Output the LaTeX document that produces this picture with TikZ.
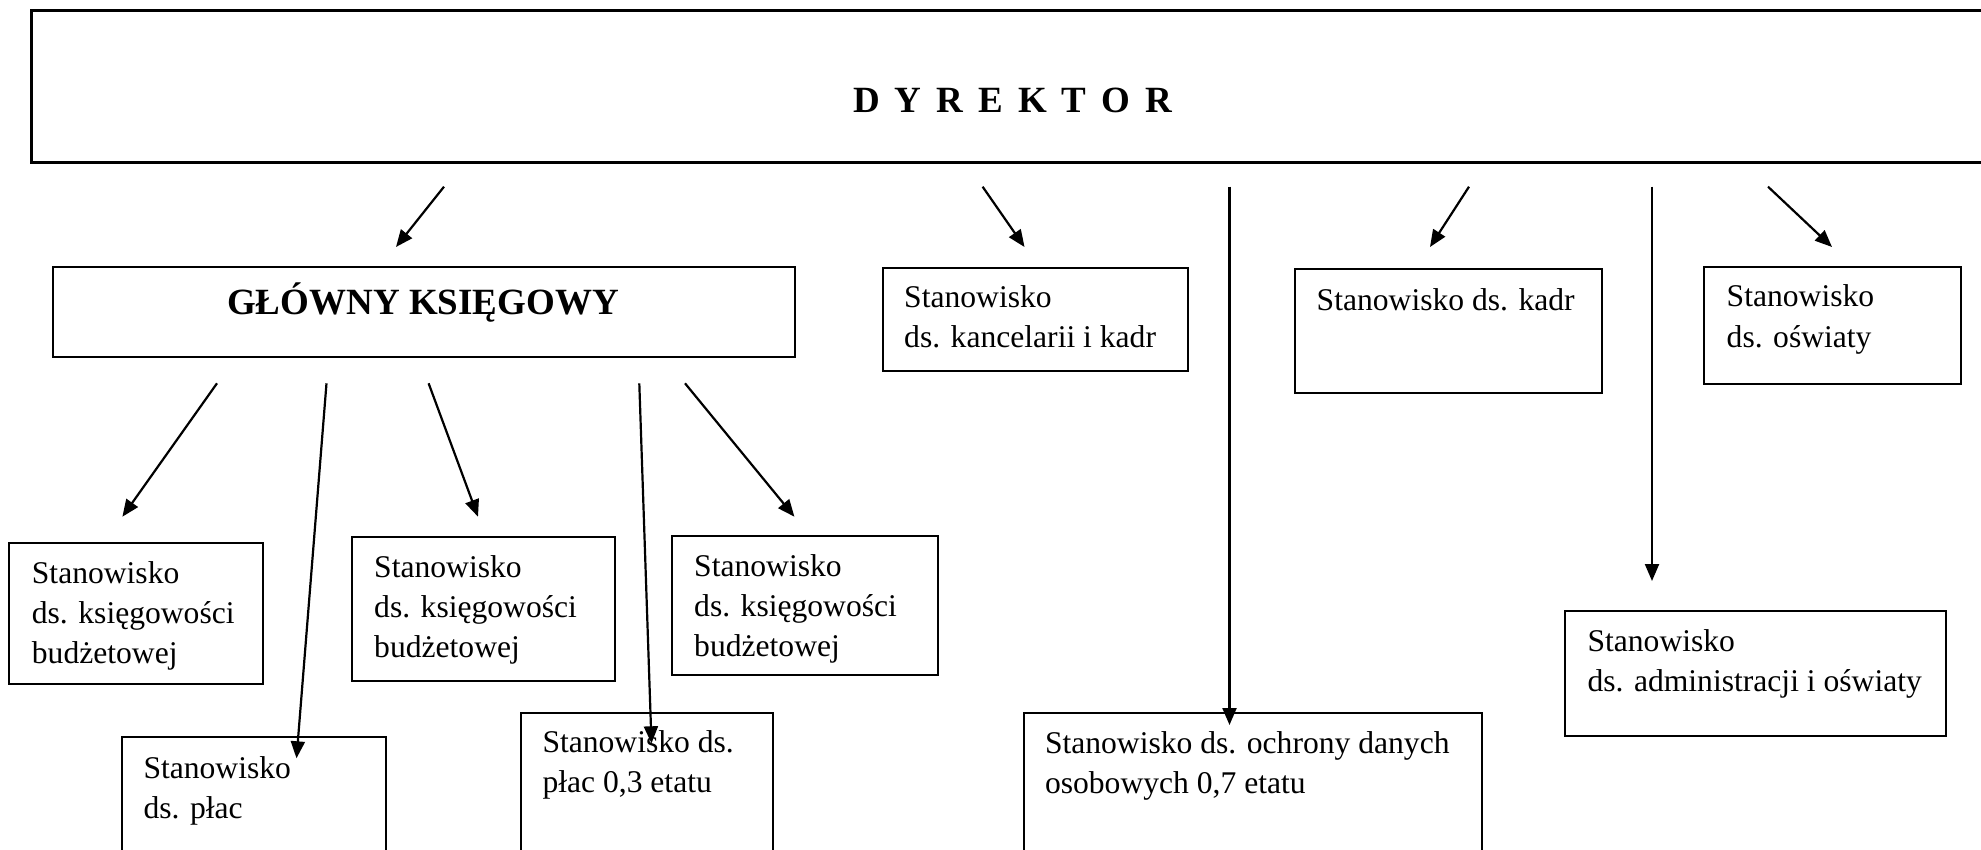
\documentclass[tikz,border=0pt]{standalone}
\usepackage{fontspec}
\setmainfont{Liberation Serif}
\usetikzlibrary{arrows.meta}
\newcommand\mylines[1]{\parbox[t]{600pt}{#1}}
\newcommand\gap{\hspace{15pt}}
\begin{document}
\begin{tikzpicture}[x=1pt,y=-1pt,
  box/.style={draw, line width=2.5pt, inner sep=0pt, outer sep=0pt, anchor=north west},
  lbl/.style={anchor=base west, inner sep=0pt, font=\fontsize{31.6}{40}\selectfont},
  headlbl/.style={anchor=base west, inner sep=0pt, font=\fontsize{37}{44}\selectfont\bfseries},
  conn/.style={line width=2.2pt, -{Triangle[length=17pt,width=14pt]}}
]
\useasboundingbox (0,0) rectangle (1981,850);

% boxes
\node[box, line width=3pt, minimum width=1959pt, minimum height=152pt] (dyr) at (31,11) {};
\node[box, minimum width=742pt, minimum height=90pt] (gk) at (53,267) {};
\node[box, minimum width=305pt, minimum height=103pt] (kanc) at (883,268) {};
\node[box, minimum width=307pt, minimum height=124pt] (kadr) at (1295,269) {};
\node[box, minimum width=257pt, minimum height=117pt] (osw) at (1704,267) {};
\node[box, minimum width=254pt, minimum height=141pt] (b1) at (9,543) {};
\node[box, minimum width=264pt, minimum height=140pt] (b2) at (122,737) {};
\node[box, minimum width=263pt, minimum height=144pt] (b3) at (352,537) {};
\node[box, minimum width=252pt, minimum height=140pt] (b4) at (521,713) {};
\node[box, minimum width=266pt, minimum height=139pt] (b5) at (672,536) {};
\node[box, minimum width=458pt, minimum height=140pt] (och) at (1024,713) {};
\node[box, minimum width=381pt, minimum height=125pt] (adm) at (1565,611) {};

% texts
\node[headlbl] (tdyr) at (853,112.7) {D\gap Y\gap R\gap E\gap K\gap T\gap O\gap R};
\node[headlbl] (tgk) at (227,315) {GŁÓWNY KSIĘGOWY};
\node[lbl] (tkanc) at (904,308) {\mylines{Stanowisko\\ds. kancelarii i kadr}};
\node[lbl] (tkadr) at (1316.5,310) {Stanowisko ds. kadr};
\node[lbl] (tosw) at (1726.5,307) {\mylines{Stanowisko\\ds. oświaty}};
\node[lbl] (tb1) at (31.7,583) {\mylines{Stanowisko\\ds. księgowości\\budżetowej}};
\node[lbl] (tb2) at (143.3,778.3) {\mylines{Stanowisko\\ds. płac}};
\node[lbl] (tb3) at (374,577.7) {\mylines{Stanowisko\\ds. księgowości\\budżetowej}};
\node[lbl] (tb4) at (542.3,752.3) {\mylines{Stanowisko ds.\\płac 0,3 etatu}};
\node[lbl] (tb5) at (694,576.7) {\mylines{Stanowisko\\ds. księgowości\\budżetowej}};
\node[lbl] (toch) at (1044.8,753.3) {\mylines{Stanowisko ds. ochrony danych\\osobowych 0,7 etatu}};
\node[lbl] (tadm) at (1587.3,651.7) {\mylines{Stanowisko\\ds. administracji i oświaty}};

% connector end points
\coordinate (c1s) at (444,186.7);   \coordinate (c1e) at (396,247);
\coordinate (c2s) at (982.6,186.7); \coordinate (c2e) at (1024.5,247);
\coordinate (c3s) at (1229.5,186.7);\coordinate (c3e) at (1229.5,725);
\coordinate (c4s) at (1469,186.7);  \coordinate (c4e) at (1430,247);
\coordinate (c5s) at (1652,186.7);  \coordinate (c5e) at (1652,581);
\coordinate (c6s) at (1768,186.7);  \coordinate (c6e) at (1832,247);
\coordinate (g1s) at (217,383.3);   \coordinate (g1e) at (122.4,516.7);
\coordinate (g2s) at (326.5,383.3); \coordinate (g2e) at (296.5,758.3);
\coordinate (g3s) at (428.6,383.3); \coordinate (g3e) at (478,516.7);
\coordinate (g4s) at (639.3,383.3); \coordinate (g4e) at (651.5,743.3);
\coordinate (g5s) at (685,383.3);   \coordinate (g5e) at (794.4,516.7);

\foreach \a in {c1,c2,c3,c4,c5,c6,g1,g2,g3,g4,g5}
  \draw[conn] (\a s) -- (\a e);
\end{tikzpicture}
\end{document}
